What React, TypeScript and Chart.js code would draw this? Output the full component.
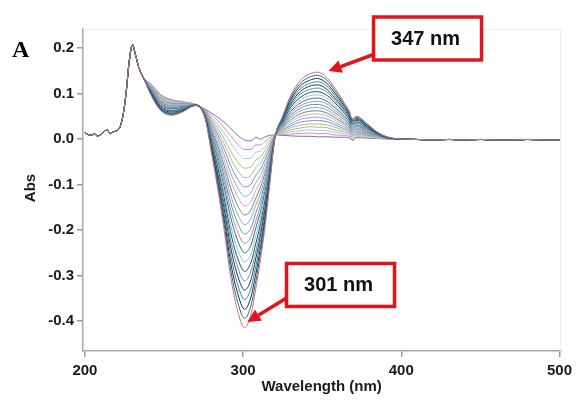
import React, { useEffect, useRef } from "react";
import { Chart, registerables } from "chart.js";

Chart.register(...registerables);

// ---- data ----
const startWl = [200, 202, 204, 206, 208, 210, 212, 214, 216, 218, 220, 222, 224, 226, 228, 230, 232, 234, 237];
const startAbs = [0.014, 0.010, 0.008, 0.012, 0.006, 0.010, 0.016, 0.020, 0.012, 0.016, 0.018, 0.025, 0.050, 0.100, 0.170, 0.207, 0.185, 0.158, 0.135];

const bandWl = [242, 248, 255, 262, 270, 276, 280, 284, 288, 292, 296, 301, 305, 308, 311, 314, 317, 320, 325, 330, 336, 342, 347, 353, 358, 363, 367, 369, 372, 378, 385, 392];

const tailWl = [400, 410, 420, 430, 440, 450, 460, 470, 480, 490, 500];
const tailAbs = [0.000, -0.001, -0.002, -0.001, -0.002, -0.001, -0.002, -0.002, -0.001, -0.002, -0.002];

const s00 = [0.120, 0.097, 0.086, 0.082, 0.076, 0.066, 0.057, 0.048, 0.037, 0.024, 0.010, -0.002, -0.004, 0.004, 0.000, 0.005, 0.008, 0.009, 0.008, 0.007, 0.006, 0.006, 0.005, 0.005, 0.004, 0.004, 0.003, -0.003, 0.003, 0.002, 0.001, 0.000];
const s01 = [0.119, 0.095, 0.084, 0.081, 0.076, 0.065, 0.053, 0.040, 0.025, 0.008, -0.009, -0.023, -0.023, -0.013, -0.013, -0.005, 0.003, 0.009, 0.010, 0.011, 0.012, 0.013, 0.012, 0.012, 0.009, 0.008, 0.006, -0.001, 0.005, 0.004, 0.002, 0.000];
const s02 = [0.118, 0.094, 0.083, 0.080, 0.076, 0.064, 0.048, 0.032, 0.013, -0.008, -0.028, -0.043, -0.042, -0.029, -0.027, -0.015, -0.002, 0.008, 0.012, 0.016, 0.018, 0.020, 0.019, 0.018, 0.015, 0.012, 0.009, 0.002, 0.008, 0.005, 0.002, 0.000];
const s03 = [0.116, 0.092, 0.081, 0.079, 0.076, 0.063, 0.044, 0.024, 0.001, -0.025, -0.047, -0.064, -0.061, -0.046, -0.040, -0.024, -0.007, 0.008, 0.014, 0.020, 0.024, 0.027, 0.026, 0.025, 0.020, 0.016, 0.012, 0.004, 0.010, 0.007, 0.003, 0.000];
const s04 = [0.115, 0.090, 0.079, 0.078, 0.076, 0.062, 0.040, 0.016, -0.010, -0.041, -0.066, -0.085, -0.080, -0.063, -0.053, -0.034, -0.013, 0.007, 0.016, 0.025, 0.030, 0.033, 0.033, 0.031, 0.026, 0.020, 0.015, 0.007, 0.012, 0.009, 0.004, 0.000];
const s05 = [0.114, 0.088, 0.078, 0.077, 0.076, 0.061, 0.035, 0.009, -0.022, -0.057, -0.085, -0.105, -0.099, -0.080, -0.066, -0.044, -0.018, 0.007, 0.019, 0.029, 0.037, 0.040, 0.041, 0.038, 0.031, 0.024, 0.018, 0.009, 0.015, 0.010, 0.005, 0.001];
const s06 = [0.113, 0.087, 0.076, 0.075, 0.076, 0.060, 0.031, 0.001, -0.034, -0.073, -0.104, -0.126, -0.118, -0.096, -0.080, -0.054, -0.023, 0.006, 0.021, 0.033, 0.043, 0.047, 0.048, 0.044, 0.036, 0.028, 0.021, 0.011, 0.017, 0.012, 0.005, 0.001];
const s07 = [0.111, 0.085, 0.074, 0.074, 0.075, 0.059, 0.027, -0.007, -0.046, -0.089, -0.123, -0.147, -0.137, -0.113, -0.093, -0.063, -0.028, 0.006, 0.023, 0.038, 0.049, 0.054, 0.055, 0.051, 0.042, 0.032, 0.024, 0.014, 0.019, 0.014, 0.006, 0.001];
const s08 = [0.110, 0.083, 0.072, 0.073, 0.075, 0.058, 0.022, -0.015, -0.058, -0.106, -0.142, -0.167, -0.156, -0.130, -0.106, -0.073, -0.033, 0.005, 0.025, 0.042, 0.055, 0.061, 0.062, 0.057, 0.047, 0.036, 0.027, 0.016, 0.022, 0.015, 0.007, 0.001];
const s09 = [0.109, 0.081, 0.071, 0.072, 0.075, 0.057, 0.018, -0.023, -0.070, -0.122, -0.161, -0.188, -0.175, -0.146, -0.119, -0.083, -0.038, 0.005, 0.027, 0.047, 0.061, 0.068, 0.069, 0.064, 0.053, 0.040, 0.030, 0.019, 0.024, 0.017, 0.007, 0.001];
const s10 = [0.108, 0.080, 0.069, 0.071, 0.075, 0.056, 0.014, -0.031, -0.082, -0.138, -0.180, -0.209, -0.195, -0.163, -0.133, -0.093, -0.044, 0.005, 0.029, 0.051, 0.067, 0.075, 0.076, 0.070, 0.058, 0.045, 0.033, 0.021, 0.027, 0.019, 0.008, 0.002];
const s11 = [0.106, 0.078, 0.067, 0.070, 0.075, 0.054, 0.009, -0.039, -0.093, -0.154, -0.199, -0.229, -0.214, -0.180, -0.146, -0.102, -0.049, 0.004, 0.031, 0.055, 0.073, 0.081, 0.083, 0.077, 0.063, 0.049, 0.035, 0.023, 0.029, 0.020, 0.009, 0.002];
const s12 = [0.105, 0.076, 0.066, 0.069, 0.075, 0.053, 0.005, -0.047, -0.105, -0.170, -0.218, -0.250, -0.233, -0.196, -0.159, -0.112, -0.054, 0.004, 0.033, 0.060, 0.079, 0.088, 0.090, 0.083, 0.069, 0.053, 0.038, 0.026, 0.031, 0.022, 0.009, 0.002];
const s13 = [0.104, 0.074, 0.064, 0.068, 0.075, 0.052, 0.000, -0.055, -0.117, -0.187, -0.237, -0.270, -0.252, -0.213, -0.172, -0.122, -0.059, 0.003, 0.035, 0.064, 0.085, 0.095, 0.097, 0.090, 0.074, 0.057, 0.041, 0.028, 0.034, 0.023, 0.010, 0.002];
const s14 = [0.103, 0.073, 0.062, 0.067, 0.075, 0.051, -0.004, -0.063, -0.129, -0.203, -0.256, -0.291, -0.271, -0.230, -0.186, -0.132, -0.064, 0.003, 0.037, 0.069, 0.091, 0.102, 0.104, 0.096, 0.080, 0.061, 0.044, 0.031, 0.036, 0.025, 0.011, 0.002];
const s15 = [0.101, 0.071, 0.061, 0.066, 0.074, 0.050, -0.008, -0.071, -0.141, -0.219, -0.275, -0.312, -0.290, -0.247, -0.199, -0.141, -0.069, 0.002, 0.040, 0.073, 0.098, 0.109, 0.112, 0.103, 0.085, 0.065, 0.047, 0.033, 0.038, 0.027, 0.012, 0.003];
const s16 = [0.100, 0.069, 0.059, 0.064, 0.074, 0.049, -0.013, -0.078, -0.153, -0.235, -0.294, -0.332, -0.309, -0.263, -0.212, -0.151, -0.074, 0.002, 0.042, 0.077, 0.104, 0.116, 0.119, 0.109, 0.090, 0.069, 0.050, 0.035, 0.041, 0.028, 0.012, 0.003];
const s17 = [0.099, 0.067, 0.057, 0.063, 0.074, 0.048, -0.017, -0.086, -0.164, -0.251, -0.313, -0.353, -0.328, -0.280, -0.225, -0.161, -0.080, 0.001, 0.044, 0.082, 0.110, 0.122, 0.126, 0.116, 0.096, 0.073, 0.053, 0.038, 0.043, 0.030, 0.013, 0.003];
const s18 = [0.098, 0.066, 0.055, 0.062, 0.074, 0.047, -0.021, -0.094, -0.176, -0.268, -0.332, -0.374, -0.347, -0.297, -0.239, -0.171, -0.085, 0.001, 0.046, 0.086, 0.116, 0.129, 0.133, 0.122, 0.101, 0.077, 0.056, 0.040, 0.045, 0.032, 0.014, 0.003];
const s19 = [0.096, 0.064, 0.054, 0.061, 0.074, 0.046, -0.026, -0.102, -0.188, -0.284, -0.351, -0.394, -0.366, -0.313, -0.252, -0.180, -0.090, 0.000, 0.048, 0.091, 0.122, 0.136, 0.140, 0.129, 0.107, 0.081, 0.059, 0.043, 0.048, 0.033, 0.014, 0.003];
const s20 = [0.095, 0.062, 0.052, 0.060, 0.074, 0.045, -0.030, -0.110, -0.200, -0.300, -0.370, -0.415, -0.385, -0.330, -0.265, -0.190, -0.095, 0.000, 0.050, 0.095, 0.128, 0.143, 0.147, 0.135, 0.112, 0.085, 0.062, 0.045, 0.050, 0.035, 0.015, 0.004];

const curves = [s00, s01, s02, s03, s04, s05, s06, s07, s08, s09, s10, s11, s12, s13, s14, s15, s16, s17, s18, s19, s20];

const lineColors = [
  "#7d6fb3", "#d98fb0", "#9ecae8", "#b9b86a", "#8bc79a", "#a77bd1", "#6fb7c9",
  "#e3a0c0", "#5e8f6e", "#9a9ad8", "#4aa3a0", "#c07fb8", "#3b6f8f", "#7fcfc0",
  "#2f3f7a", "#5c9b8a", "#22305f", "#3a8a8a", "#1e2a55", "#2b6e6e", "#c8708f",
];

const xTickValues = [200, 300, 400, 500];
const yTickValues = [0.2, 0.1, 0.0, -0.1, -0.2, -0.3, -0.4];

const peakLabels = [
  { text: "347 nm", boxX: 416.6, boxY: 0.2209, tipX: 354.0, tipY: 0.1495, startDy: 16 },
  { text: "301 nm", boxX: 361.6, boxY: -0.3208, tipX: 302.7, tipY: -0.402, startDy: 13 },
];

const RED = "#e3141c";
const FONT = '"Liberation Sans", Arial, sans-serif';

const decorPlugin = {
  id: "decor",
  beforeDatasetsDraw(chart: any) {
    const { ctx, chartArea } = chart;
    ctx.save();
    ctx.strokeStyle = "#ececec";
    ctx.lineWidth = 1;
    ctx.beginPath();
    ctx.moveTo(chartArea.left, chartArea.top + 0.5);
    ctx.lineTo(chartArea.right + 0.5, chartArea.top + 0.5);
    ctx.lineTo(chartArea.right + 0.5, chartArea.bottom);
    ctx.stroke();
    ctx.restore();
  },
  afterDraw(chart: any) {
    const { ctx, chartArea, scales } = chart;
    const xs = scales.x;
    const ys = scales.y;
    ctx.save();
    // panel letter
    ctx.fillStyle = "#000";
    ctx.font = 'bold 24px "Liberation Serif", "Times New Roman", serif';
    ctx.textAlign = "left";
    ctx.textBaseline = "alphabetic";
    ctx.fillText("A", 12, 57);

    // axis titles
    ctx.fillStyle = "#1a1a1a";
    ctx.font = `bold 15px ${FONT}`;
    ctx.textAlign = "center";
    ctx.textBaseline = "middle";
    ctx.fillText("Wavelength (nm)", (chartArea.left + chartArea.right) / 2, 387);
    ctx.save();
    ctx.translate(31, (chartArea.top + chartArea.bottom) / 2 - 2);
    ctx.rotate(-Math.PI / 2);
    ctx.fillText("Abs", 0, 0);
    ctx.restore();

    // annotations
    const bw = 108;
    const bh = 43;
    peakLabels.forEach((p) => {
      const cx = xs.getPixelForValue(p.boxX);
      const cy = ys.getPixelForValue(p.boxY);
      const tx = xs.getPixelForValue(p.tipX);
      const ty = ys.getPixelForValue(p.tipY);
      const sx = cx - bw / 2;
      const sy = cy + p.startDy;
      const ang = Math.atan2(ty - sy, tx - sx);
      const headLen = 13;
      const headW = 6.5;
      const bx = tx - headLen * Math.cos(ang);
      const by = ty - headLen * Math.sin(ang);
      ctx.strokeStyle = RED;
      ctx.fillStyle = RED;
      ctx.lineWidth = 3.5;
      ctx.beginPath();
      ctx.moveTo(sx, sy);
      ctx.lineTo(bx, by);
      ctx.stroke();
      ctx.beginPath();
      ctx.moveTo(tx, ty);
      ctx.lineTo(bx + headW * Math.sin(ang), by - headW * Math.cos(ang));
      ctx.lineTo(bx - headW * Math.sin(ang), by + headW * Math.cos(ang));
      ctx.closePath();
      ctx.fill();
      ctx.fillStyle = "#fff";
      ctx.fillRect(cx - bw / 2, cy - bh / 2, bw, bh);
      ctx.lineWidth = 3.5;
      ctx.strokeRect(cx - bw / 2, cy - bh / 2, bw, bh);
      ctx.fillStyle = "#111";
      ctx.font = `bold 20px ${FONT}`;
      ctx.textAlign = "center";
      ctx.textBaseline = "middle";
      ctx.fillText(p.text, cx - 2, cy + 1);
    });
    ctx.restore();
  },
};

export default function App() {
  const canvasRef = useRef<HTMLCanvasElement | null>(null);

  useEffect(() => {
    if (!canvasRef.current) return;
    const makePoints = (band: number[]) => {
      const wl = [...startWl, ...bandWl, ...tailWl];
      const ab = [...startAbs, ...band, ...tailAbs];
      return wl.map((w, i) => ({ x: w, y: ab[i] }));
    };
    const datasets = curves
      .map((c, k) => ({
        label: `c${k}`,
        data: makePoints(c),
        borderColor: lineColors[k % lineColors.length],
        borderWidth: 1,
        pointRadius: 0,
        fill: false,
        cubicInterpolationMode: "monotone" as const,
      }))
      .reverse();

    const tickFont = { family: FONT, size: 15, weight: "bold" as const };

    const chart = new Chart(canvasRef.current, {
      type: "line",
      data: { datasets },
      options: {
        animation: false,
        responsive: false,
        devicePixelRatio: 1,
        layout: { padding: { top: 29, right: 12, left: 0, bottom: 0 } },
        plugins: { legend: { display: false }, tooltip: { enabled: false } },
        scales: {
          x: {
            type: "linear",
            min: 198.8,
            max: 500.5,
            afterBuildTicks: (scale: any) => {
              scale.ticks = xTickValues.map((v) => ({ value: v }));
            },
            afterFit: (scale: any) => {
              scale.height = 50;
            },
            grid: { drawOnChartArea: false, color: "#999", tickLength: 6, lineWidth: 1.5 },
            border: { color: "#aaa", width: 1.5 },
            ticks: {
              font: tickFont,
              color: "#1a1a1a",
              padding: 5,
              maxRotation: 0,
              callback: (v: any) => String(v),
            },
          },
          y: {
            type: "linear",
            min: -0.4659,
            max: 0.2418,
            afterBuildTicks: (scale: any) => {
              scale.ticks = yTickValues.map((v) => ({ value: v }));
            },
            afterFit: (scale: any) => {
              scale.width = 83;
            },
            grid: { drawOnChartArea: false, color: "#999", tickLength: 6, lineWidth: 1.5 },
            border: { color: "#aaa", width: 1.5 },
            ticks: {
              font: tickFont,
              color: "#1a1a1a",
              padding: 3,
              callback: (v: any) => Number(v).toFixed(1),
            },
          },
        },
      },
      plugins: [decorPlugin],
    });
    return () => chart.destroy();
  }, []);

  return (
    <div style={{ position: "fixed", left: 0, top: 0, width: 577, height: 401, background: "#fff" }}>
      <canvas ref={canvasRef} width={577} height={401} style={{ display: "block" }} />
    </div>
  );
}
